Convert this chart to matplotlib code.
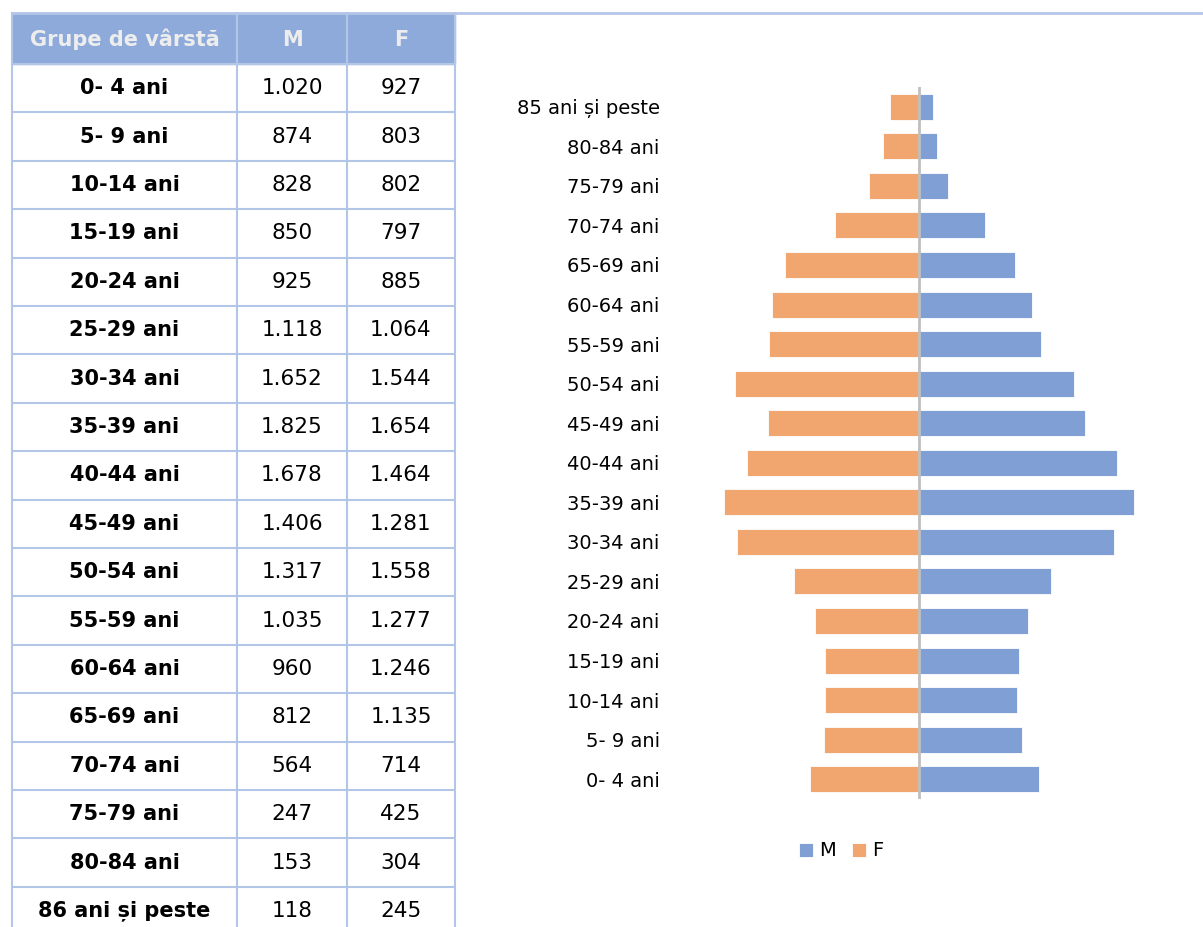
import matplotlib.pyplot as plt
import matplotlib.patches as mpatches
from matplotlib import font_manager

# ---- data ----
table_groups = ["0- 4 ani", "5- 9 ani", "10-14 ani", "15-19 ani", "20-24 ani", "25-29 ani",
                "30-34 ani", "35-39 ani", "40-44 ani", "45-49 ani", "50-54 ani", "55-59 ani",
                "60-64 ani", "65-69 ani", "70-74 ani", "75-79 ani", "80-84 ani", "86 ani și peste"]
chart_groups = table_groups[:-1] + ["85 ani și peste"]
male = [1020, 874, 828, 850, 925, 1118, 1652, 1825, 1678, 1406, 1317, 1035, 960, 812, 564, 247, 153, 118]
female = [927, 803, 802, 797, 885, 1064, 1544, 1654, 1464, 1281, 1558, 1277, 1246, 1135, 714, 425, 304, 245]
header = ["Grupe de vârstă", "M", "F"]


def fmt(v):
    # thousands separator with a dot, as in the original
    return f"{v:,}".replace(",", ".")


W, H = 1203, 927
fig = plt.figure(figsize=(W / 100, H / 100), dpi=100)

installed = {f.name for f in font_manager.fontManager.ttflist}
narrow = "Liberation Sans Narrow" if "Liberation Sans Narrow" in installed else "DejaVu Sans"

# ---- table drawn in pixel coordinates ----
tab = fig.add_axes([0, 0, 1, 1])
tab.set_xlim(0, W)
tab.set_ylim(H, 0)
tab.axis("off")

col_x = [12, 237, 347, 455]
top, head_h, row_h = 13, 51, 48.4
grid_c = "#B4C6E7"
head_c = "#8EAADB"

tab.add_patch(mpatches.Rectangle((col_x[0], top), col_x[-1] - col_x[0], head_h, color=head_c, zorder=1))
for j, h in enumerate(header):
    cx = (col_x[j] + col_x[j + 1]) / 2
    tab.text(cx, top + head_h / 2 + 1, h, ha="center", va="center", color="#EDEDED",
             fontsize=15, fontweight="bold")

for i, g in enumerate(table_groups):
    cy = top + head_h + row_h * (i + 0.5)
    tab.text((col_x[0] + col_x[1]) / 2, cy, g, ha="center", va="center", fontsize=15,
             fontweight="bold", color="black")
    tab.text((col_x[1] + col_x[2]) / 2, cy, fmt(male[i]), ha="center", va="center", fontsize=15.5)
    tab.text((col_x[2] + col_x[3]) / 2, cy, fmt(female[i]), ha="center", va="center", fontsize=15.5)

# grid lines
tab.plot([col_x[0], W], [top, top], color=grid_c, lw=2, zorder=2)
for i in range(len(table_groups) + 1):
    y = top + head_h + row_h * i
    tab.plot([col_x[0], col_x[-1]], [y, y], color=grid_c, lw=1.5, zorder=2)
for x in col_x:
    tab.plot([x, x], [top, H], color=grid_c, lw=1.5, zorder=2)

# ---- population pyramid ----
center_px = 919
scale = 215 / 1825  # px per person
half = 2000
ax_left = (center_px - half * scale) / W
ax_w = 2 * half * scale / W
ax_top, ax_bot = 87, 799
ax = fig.add_axes([ax_left, 1 - ax_bot / H, ax_w, (ax_bot - ax_top) / H])

ypos = range(len(chart_groups))
ax.barh(ypos, male, height=0.66, color="#7F9FD5", edgecolor="white", linewidth=0.6, label="M")
ax.barh(ypos, [-v for v in female], height=0.66, color="#F1A66F", edgecolor="white", linewidth=0.6, label="F")
ax.axvline(0, color="#BFBFBF", lw=2, zorder=3)
ax.set_xlim(-half, half)
ax.set_ylim(-0.5, len(chart_groups) - 0.5)
ax.set_yticks(list(ypos))
ax.set_yticklabels(chart_groups, fontsize=14, family=[narrow, "DejaVu Sans"])
ax.tick_params(axis="y", length=0, pad=17)
ax.set_xticks([])
for s in ax.spines.values():
    s.set_visible(False)

leg = fig.legend(loc="center", bbox_to_anchor=(841 / W, 1 - 851 / H), ncol=2, frameon=False,
                 handlelength=0.75, handleheight=0.75, handletextpad=0.3, columnspacing=0.8,
                 prop={"family": [narrow, "DejaVu Sans"], "size": 14})

fig.savefig("out.png", dpi=100)
